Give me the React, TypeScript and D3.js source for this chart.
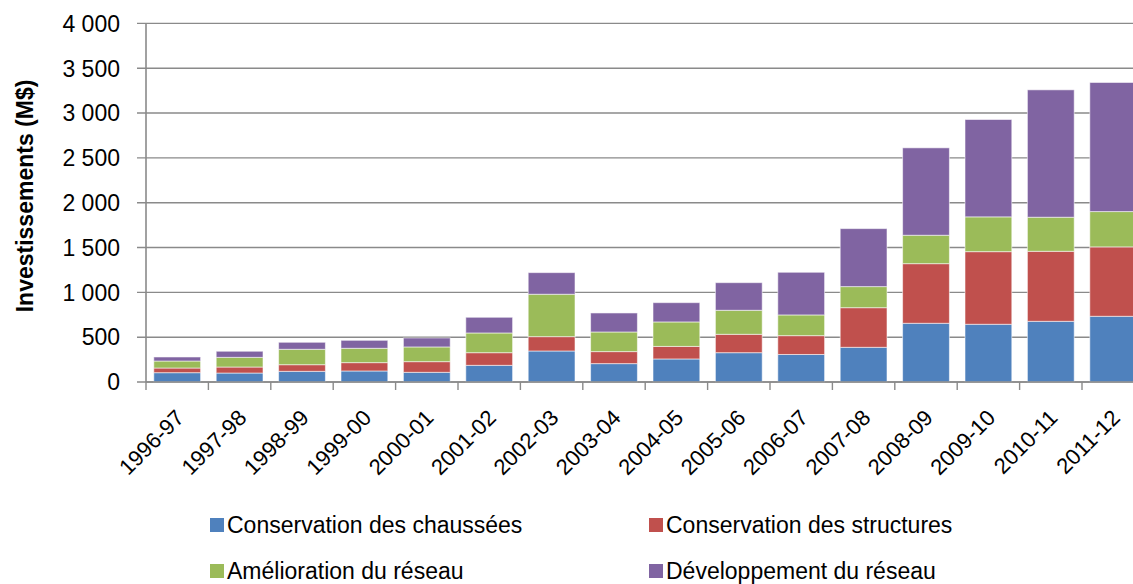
import React, { useEffect, useRef } from 'react'
import * as d3 from 'd3'

const categories = ['1996-97', '1997-98', '1998-99', '1999-00', '2000-01', '2001-02', '2002-03', '2003-04',
    '2004-05', '2005-06', '2006-07', '2007-08', '2008-09', '2009-10', '2010-11', '2011-12']
const chaussees = [104, 100, 119, 123, 108, 186, 346, 205, 257, 327, 307, 387, 655, 644, 677, 733]
const structures = [52, 67, 74, 93, 119, 141, 160, 134, 140, 205, 210, 442, 665, 810, 781, 774]
const amelioration = [78, 108, 172, 160, 164, 220, 473, 219, 273, 268, 231, 235, 317, 388, 380, 394]
const developpement = [45, 68, 78, 89, 100, 175, 241, 212, 215, 308, 476, 647, 975, 1086, 1421, 1440]
const seriesNames = ['Conservation des chaussées', 'Conservation des structures', 'Amélioration du réseau', 'Développement du réseau']
const colors = ['#4F81BD', '#C0504D', '#9BBB59', '#8064A2']
const yTicks = [0, 500, 1000, 1500, 2000, 2500, 3000, 3500, 4000]

export default function App() {
    const ref = useRef<SVGSVGElement | null>(null)

    const width = 1133
    const height = 584
    const font = 'Liberation Sans, Arial, sans-serif'

    function draw() {
        document.body.style.margin = '0'
        const svg = d3.select(ref.current)
        svg.selectAll('*').remove()
        svg.attr('width', width).attr('height', height)

        const left = 146
        const step = 62.4
        const x = d3.scaleBand<string>()
            .domain(categories)
            .range([left, left + step * categories.length])
            .paddingInner(0.25)
            .paddingOuter(0.125)
        const y = d3.scaleLinear().domain([0, 4000]).range([382, 23.4])

        const rows = categories.map((c, i) => ({
            cat: c, s0: chaussees[i], s1: structures[i], s2: amelioration[i], s3: developpement[i]
        }))
        const stacked = d3.stack<any>().keys(['s0', 's1', 's2', 's3'])(rows)

        // gridlines + y ticks
        const g = svg.append('g')
        g.selectAll('line.grid')
            .data(yTicks)
            .enter().append('line')
            .attr('x1', left - 9)
            .attr('x2', width)
            .attr('y1', d => y(d))
            .attr('y2', d => y(d))
            .attr('stroke', '#8a8a8a')
            .attr('stroke-width', 1.4)

        g.selectAll('text.ytick')
            .data(yTicks)
            .enter().append('text')
            .attr('x', 120)
            .attr('y', d => y(d))
            .attr('dy', '0.36em')
            .attr('text-anchor', 'end')
            .style('font-family', font)
            .style('font-size', '23px')
            .attr('fill', '#000')
            .text(d => d3.format(',')(d).replace(',', ' '))

        // bars
        stacked.forEach((layer, k) => {
            svg.append('g')
                .selectAll('rect')
                .data(layer)
                .enter().append('rect')
                .attr('x', (d: any) => x(d.data.cat) as number)
                .attr('width', x.bandwidth())
                .attr('y', (d: any) => y(d[1]))
                .attr('height', (d: any) => y(d[0]) - y(d[1]))
                .attr('fill', colors[k])
                .attr('stroke', 'rgba(255,255,255,0.55)')
                .attr('stroke-width', 1)
        })

        // axes
        svg.append('line')
            .attr('x1', left).attr('x2', left)
            .attr('y1', y(4000)).attr('y2', y(0))
            .attr('stroke', '#8a8a8a').attr('stroke-width', 1.6)
        svg.append('line')
            .attr('x1', left).attr('x2', width)
            .attr('y1', y(0)).attr('y2', y(0))
            .attr('stroke', '#8a8a8a').attr('stroke-width', 1.6)
        svg.selectAll('line.xtick')
            .data(d3.range(categories.length + 1))
            .enter().append('line')
            .attr('x1', d => left + d * step)
            .attr('x2', d => left + d * step)
            .attr('y1', y(0))
            .attr('y2', y(0) + 8)
            .attr('stroke', '#8a8a8a')
            .attr('stroke-width', 1.4)

        svg.selectAll('text.xlab')
            .data(categories)
            .enter().append('text')
            .attr('transform', d => 'translate(' + ((x(d) as number) + x.bandwidth() / 2 - 3) + ',' + 408 + ') rotate(-45)')
            .attr('dy', '0.72em')
            .attr('text-anchor', 'end')
            .style('font-family', font)
            .style('font-size', '22px')
            .attr('fill', '#000')
            .text(d => d)

        // y axis title
        svg.append('text')
            .attr('transform', 'translate(33,196) rotate(-90)')
            .attr('text-anchor', 'middle')
            .style('font-family', font)
            .style('font-size', '23px')
            .style('font-weight', 'bold')
            .attr('fill', '#000')
            .text('Investissements (M$)')

        // legend
        const legPos = [[210, 518], [649, 518], [210, 564], [649, 564]]
        seriesNames.forEach((name, i) => {
            const lg = svg.append('g').attr('transform', 'translate(' + legPos[i][0] + ',' + legPos[i][1] + ')')
            lg.append('rect').attr('width', 14).attr('height', 14).attr('fill', colors[i])
            lg.append('text')
                .attr('x', 17)
                .attr('y', 15)
                .style('font-family', font)
                .style('font-size', '23px')
                .attr('fill', '#000')
                .text(name)
        })
    }

    useEffect(() => {
        draw()
    }, [])

    return (
        <div>
            <svg ref={ref} style={{ display: 'block' }} />
        </div>
    )
}
